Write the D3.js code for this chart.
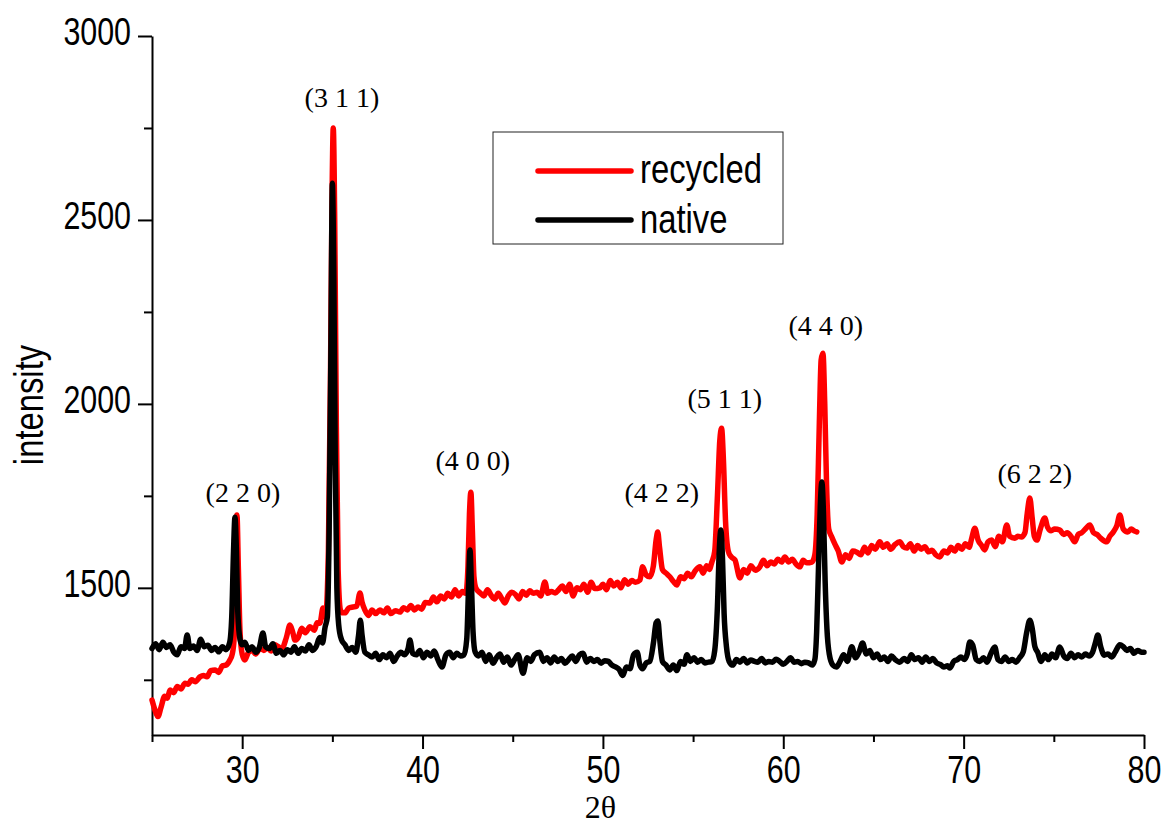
<!DOCTYPE html>
<html>
<head>
<meta charset="utf-8">
<script src="https://cdnjs.cloudflare.com/ajax/libs/d3/7.8.5/d3.min.js"></script>
<style>
  body { margin: 0; background: #fff; }
  .tick text { font-family: "Liberation Sans", Arial, sans-serif; }
</style>
</head>
<body>
<div id="xrd_div"></div>
<script>
// native sample (black)
var nativeTheta = [25.0,25.2,25.4,25.6,25.8,26.0,26.2,26.4,26.6,26.8,26.95,27.1,27.3,27.5,27.7,27.9,28.1,28.3,28.5,28.7,28.9,29.1,29.3,29.42,29.52,29.6,29.68,29.76,29.88,30.0,
  30.15,30.35,30.55,30.75,30.95,31.15,31.3,31.5,31.7,31.9,32.1,32.3,32.5,32.7,32.9,33.1,33.3,33.5,33.7,33.9,34.1,34.3,34.45,34.6,34.72,34.82,34.92,35.0,35.08,35.16,
  35.25,35.35,35.5,35.7,35.9,36.1,36.3,36.45,36.55,36.65,36.8,37.0,37.2,37.4,37.6,37.8,38.0,38.2,38.4,38.6,38.8,39.0,39.2,39.3,39.45,39.65,39.85,40.05,40.25,40.45,
  40.65,40.85,41.08,41.3,41.5,41.7,41.9,42.1,42.3,42.45,42.55,42.63,42.71,42.8,42.92,43.1,43.3,43.5,43.7,43.9,44.1,44.3,44.5,44.7,44.9,45.1,45.3,45.57,45.8,46.0,
  46.2,46.5,46.7,46.9,47.1,47.3,47.5,47.7,47.9,48.1,48.3,48.5,48.7,48.9,49.1,49.3,49.5,49.7,49.9,50.1,50.3,50.5,50.7,50.9,51.1,51.3,51.5,51.7,51.9,52.05,
  52.2,52.4,52.6,52.8,52.95,53.05,53.15,53.3,53.5,53.7,53.9,54.1,54.3,54.5,54.66,54.85,55.05,55.25,55.45,55.65,55.85,56.05,56.2,56.35,56.45,56.54,56.63,56.72,56.85,57.0,
  57.2,57.4,57.6,57.8,58.0,58.2,58.4,58.6,58.8,59.0,59.2,59.4,59.6,59.8,60.0,60.2,60.4,60.6,60.8,61.0,61.2,61.4,61.6,61.75,61.85,61.95,62.05,62.14,62.23,62.32,
  62.42,62.55,62.75,62.95,63.15,63.35,63.55,63.8,64.0,64.2,64.4,64.6,64.8,65.0,65.2,65.4,65.6,65.8,66.0,66.2,66.46,66.7,66.9,67.1,67.3,67.5,67.7,67.9,68.1,68.3,
  68.5,68.7,68.9,69.1,69.23,69.45,69.65,69.85,70.05,70.2,70.34,70.5,70.7,70.9,71.1,71.3,71.5,71.73,71.9,72.1,72.3,72.5,72.7,72.9,73.1,73.3,73.5,73.67,73.8,73.95,
  74.1,74.3,74.5,74.7,74.9,75.1,75.33,75.55,75.75,75.95,76.15,76.35,76.55,76.75,76.95,77.15,77.3,77.44,77.6,77.8,78.0,78.2,78.4,78.66,78.85,79.05,79.25,79.45,79.65,79.85,80.0];
var nativeI = [1335,1348,1332,1352,1338,1345,1326,1318,1340,1335,1372,1335,1342,1330,1360,1340,1344,1330,1338,1326,1340,1332,1350,1420,1600,1692,1600,1430,1360,1345,
  1352,1330,1340,1325,1338,1377,1340,1335,1348,1322,1330,1318,1332,1325,1340,1322,1335,1328,1345,1330,1340,1365,1350,1394,1420,1650,2150,2600,2350,1850,
  1500,1400,1360,1345,1330,1338,1325,1370,1412,1370,1325,1318,1312,1322,1305,1318,1310,1322,1300,1315,1325,1318,1335,1358,1322,1318,1330,1310,1325,1315,
  1328,1305,1285,1318,1325,1310,1322,1315,1318,1360,1500,1603,1510,1380,1325,1315,1325,1300,1318,1295,1310,1320,1298,1312,1290,1305,1318,1268,1310,1300,
  1318,1325,1300,1310,1296,1312,1300,1308,1295,1305,1315,1300,1318,1322,1298,1308,1300,1305,1295,1302,1300,1290,1285,1278,1262,1285,1280,1318,1325,1290,
  1280,1296,1300,1350,1405,1410,1360,1300,1290,1277,1290,1275,1300,1292,1318,1300,1310,1298,1305,1296,1298,1300,1330,1450,1600,1657,1580,1430,1340,1300,
  1290,1305,1298,1308,1296,1304,1300,1298,1308,1296,1300,1298,1306,1300,1292,1300,1310,1298,1300,1294,1298,1296,1290,1305,1380,1550,1720,1788,1700,1520,
  1390,1320,1290,1285,1300,1318,1300,1340,1310,1325,1350,1320,1330,1310,1320,1305,1312,1300,1315,1305,1298,1308,1300,1318,1305,1310,1298,1312,1300,1308,
  1296,1292,1285,1288,1282,1300,1305,1312,1305,1320,1353,1345,1305,1300,1310,1298,1320,1339,1305,1300,1312,1300,1305,1298,1310,1325,1380,1412,1390,1340,
  1325,1300,1318,1305,1320,1310,1339,1315,1308,1322,1310,1318,1312,1320,1315,1325,1350,1372,1340,1317,1320,1312,1325,1345,1340,1330,1335,1322,1330,1325,1325];

// recycled sample (red)
var recycledTheta = [25.0,25.15,25.33,25.5,25.7,25.85,26.0,26.2,26.4,26.6,26.83,27.0,27.2,27.4,27.66,27.85,28.05,28.25,28.5,28.7,28.9,29.1,29.32,29.45,29.55,29.63,29.71,29.79,29.88,30.0,
  30.15,30.35,30.55,30.75,30.99,31.2,31.4,31.6,31.82,32.0,32.2,32.45,32.65,32.8,32.93,33.1,33.3,33.5,33.76,34.0,34.15,34.31,34.48,34.62,34.78,34.9,34.98,35.05,35.13,35.22,
  35.32,35.45,35.58,35.7,35.9,36.14,36.35,36.53,36.65,36.8,37.0,37.2,37.4,37.64,37.85,38.05,38.25,38.5,38.75,38.95,39.15,39.35,39.55,39.75,39.95,40.15,40.41,40.6,40.8,41.0,
  41.2,41.4,41.6,41.8,42.0,42.2,42.4,42.52,42.6,42.68,42.76,42.85,42.95,43.2,43.4,43.6,43.8,44.0,44.2,44.4,44.57,44.75,44.95,45.15,45.35,45.55,45.75,45.95,46.15,46.35,
  46.55,46.78,46.95,47.15,47.35,47.55,47.75,47.95,48.15,48.35,48.55,48.75,48.95,49.15,49.35,49.55,49.83,50.0,50.2,50.4,50.6,50.8,51.0,51.2,51.4,51.6,51.8,52.05,52.2,52.4,
  52.6,52.8,52.95,53.04,53.14,53.3,53.5,53.71,53.9,54.1,54.3,54.5,54.7,54.9,55.1,55.38,55.55,55.75,55.9,56.04,56.2,56.35,56.48,56.58,56.68,56.8,56.95,57.1,57.32,57.6,
  57.8,58.0,58.2,58.45,58.7,58.9,59.1,59.3,59.5,59.7,59.9,60.09,60.3,60.5,60.7,60.92,61.1,61.3,61.59,61.75,61.88,62.0,62.1,62.2,62.3,62.4,62.52,62.69,62.85,63.05,
  63.25,63.45,63.65,63.85,64.08,64.3,64.5,64.7,64.9,65.1,65.35,65.55,65.75,65.95,66.2,66.46,66.65,66.85,67.05,67.25,67.45,67.65,67.85,68.05,68.25,68.45,68.68,68.9,69.1,69.3,
  69.5,69.7,69.9,70.1,70.3,70.45,70.62,70.8,71.0,71.17,71.35,71.55,71.75,71.95,72.15,72.39,72.55,72.84,73.0,73.2,73.4,73.52,73.67,73.8,73.92,74.06,74.25,74.5,74.65,74.85,
  75.05,75.33,75.55,75.75,75.95,76.16,76.35,76.55,76.75,77.0,77.2,77.4,77.6,77.94,78.1,78.3,78.5,78.66,78.85,79.1,79.3,79.45,79.6];
var recycledI = [1195,1170,1150,1175,1205,1200,1222,1215,1232,1225,1241,1238,1250,1245,1258,1262,1258,1275,1277,1270,1288,1290,1304,1320,1360,1550,1698,1550,1380,1320,
  1304,1325,1330,1320,1336,1330,1338,1328,1345,1340,1335,1365,1399,1380,1358,1365,1390,1378,1394,1385,1405,1404,1445,1420,1600,2100,2550,2750,2500,1950,
  1550,1440,1432,1432,1445,1448,1450,1486,1460,1440,1425,1440,1430,1440,1432,1445,1430,1438,1434,1446,1440,1452,1440,1448,1442,1460,1459,1475,1462,1478,
  1470,1485,1475,1495,1478,1490,1485,1560,1700,1760,1660,1530,1500,1486,1478,1495,1480,1470,1485,1470,1459,1478,1488,1482,1470,1490,1480,1492,1485,1488,
  1478,1516,1485,1490,1486,1495,1505,1490,1510,1478,1500,1495,1510,1488,1515,1498,1500,1510,1495,1520,1505,1515,1500,1522,1510,1520,1515,1521,1557,1535,
  1530,1560,1630,1652,1610,1550,1540,1530,1518,1508,1530,1525,1540,1530,1545,1557,1540,1560,1550,1570,1600,1750,1900,1934,1850,1680,1600,1585,1576,1527,
  1550,1540,1560,1548,1557,1575,1560,1570,1565,1578,1570,1584,1570,1578,1565,1557,1575,1568,1570,1590,1700,1950,2120,2138,2000,1780,1660,1638,1620,1600,
  1570,1590,1580,1600,1597,1590,1610,1595,1615,1605,1625,1610,1620,1605,1618,1625,1612,1608,1620,1600,1615,1605,1612,1598,1602,1590,1584,1600,1595,1610,
  1600,1615,1605,1620,1610,1635,1662,1630,1615,1603,1625,1630,1612,1640,1625,1671,1640,1635,1640,1638,1650,1700,1744,1690,1640,1630,1660,1690,1665,1655,
  1660,1657,1645,1650,1640,1625,1645,1650,1660,1671,1650,1645,1635,1625,1640,1652,1670,1698,1660,1652,1660,1655,1652];

// peak labels (hkl) and where they sit (2theta, intensity)
var peakLabels = ["(2 2 0)", "(3 1 1)", "(4 0 0)", "(4 2 2)", "(5 1 1)", "(4 4 0)", "(6 2 2)"];
var peakLabelTheta = [30.04, 35.53, 42.79, 53.27, 56.76, 62.36, 73.95];
var peakLabelI = [1733, 2807, 1820, 1733, 1989, 2187, 1785];

var xMajorTicks = [30, 40, 50, 60, 70, 80];
var xMinorTicks = [25, 35, 45, 55, 65, 75];
var yMajorTicks = [1500, 2000, 2500, 3000];
var yMinorTicks = [1250, 1750, 2250, 2750];

var seriesNames = ["recycled", "native"];
var seriesColors = ["#ff0000", "#000000"];

// the original uses a narrow sans, squeeze Liberation Sans horizontally
var narrow = 0.8;
var sansFont = "'Liberation Sans', Arial, sans-serif";

function xrdchart(){
  var all_width = 1168;
  var all_height = 824;
  var margin = {top: 36, right: 24, bottom: 89, left: 152},
      width = all_width - margin.left - margin.right,
      height = all_height - margin.top - margin.bottom;

  var svg = d3.select("#xrd_div")
    .html("")
    .append("svg")
      .attr("width", all_width)
      .attr("height", all_height)
    .append("g")
      .attr("transform", "translate(" + margin.left + "," + margin.top + ")");

  var x = d3.scaleLinear().domain([25, 80]).range([0, width]);
  var y = d3.scaleLinear().domain([1100, 3000]).range([height, 0]);

  // minor ticks first, no labels
  svg.append("g")
    .attr("transform", "translate(0," + height + ")")
    .call(d3.axisBottom(x).tickValues(xMinorTicks).tickSize(7).tickFormat(""))
    .call(function(g){ g.select(".domain").remove(); })
    .selectAll("line").attr("stroke-width", 2);
  svg.append("g")
    .call(d3.axisLeft(y).tickValues(yMinorTicks).tickSize(8).tickFormat(""))
    .call(function(g){ g.select(".domain").remove(); })
    .selectAll("line").attr("stroke-width", 2);

  // x axis
  var xAxis = svg.append("g")
    .attr("transform", "translate(0," + height + ")")
    .call(d3.axisBottom(x).tickValues(xMajorTicks).tickFormat(d3.format("d"))
      .tickSize(14).tickSizeOuter(0).tickPadding(7));
  xAxis.select(".domain").attr("stroke-width", 2);
  xAxis.selectAll(".tick line").attr("stroke-width", 2);
  xAxis.selectAll(".tick text")
    .style("font-size", "38px")
    .attr("fill", "#000")
    .attr("transform", "scale(" + narrow + ",1)");

  // y axis
  var yAxis = svg.append("g")
    .call(d3.axisLeft(y).tickValues(yMajorTicks).tickFormat(d3.format("d"))
      .tickSize(14).tickSizeOuter(0).tickPadding(7));
  yAxis.select(".domain").attr("stroke-width", 2);
  yAxis.selectAll(".tick line").attr("stroke-width", 2);
  yAxis.selectAll(".tick text")
    .style("font-size", "38px")
    .attr("dy", "0.22em")
    .attr("fill", "#000")
    .attr("x", -21 / narrow)
    .attr("transform", "scale(" + narrow + ",1)");

  // axis titles
  svg.append("text")
    .attr("text-anchor", "middle")
    .attr("transform", "translate(" + (43 - margin.left) + "," + (405 - margin.top) + ") rotate(-90) scale(" + narrow + ",1)")
    .style("font-family", sansFont)
    .style("font-size", "41px")
    .text("intensity");

  svg.append("text")
    .attr("text-anchor", "middle")
    .attr("x", width * 0.452)
    .attr("y", height + 83)
    .style("font-family", "'Liberation Serif', 'DejaVu Serif', serif")
    .style("font-size", "32px")
    .text("2θ");

  // the two patterns
  var line = d3.line()
    .x(function(d) { return x(d[0]); })
    .y(function(d) { return y(d[1]); })
    .curve(d3.curveMonotoneX);

  var recycled = recycledTheta.map(function(t, i) { return [t, recycledI[i]]; });
  var native = nativeTheta.map(function(t, i) { return [t, nativeI[i]]; });

  [recycled, native].forEach(function(s, i) {
    svg.append("path")
      .datum(s)
      .attr("fill", "none")
      .attr("stroke", seriesColors[i])
      .attr("stroke-width", 5.5)
      .attr("stroke-linejoin", "round")
      .attr("stroke-linecap", "round")
      .attr("d", line);
  });

  // hkl labels
  svg.selectAll("peakLabels")
    .data(peakLabels)
    .enter()
    .append("text")
      .attr("x", function(d, i) { return x(peakLabelTheta[i]); })
      .attr("y", function(d, i) { return y(peakLabelI[i]); })
      .attr("text-anchor", "middle")
      .style("font-family", "'Liberation Serif', 'DejaVu Serif', serif")
      .style("font-size", "28px")
      .text(function(d) { return d; });

  // legend
  var lg = svg.append("g")
    .attr("transform", "translate(" + (493 - margin.left) + "," + (132 - margin.top) + ")");
  lg.append("rect")
    .attr("width", 290)
    .attr("height", 112)
    .attr("fill", "#fff")
    .attr("stroke", "#222")
    .attr("stroke-width", 1);
  seriesNames.forEach(function(name, i) {
    lg.append("line")
      .attr("x1", 45).attr("x2", 138)
      .attr("y1", 39 + i * 49).attr("y2", 39 + i * 49)
      .attr("stroke", seriesColors[i])
      .attr("stroke-width", 5.5)
      .attr("stroke-linecap", "round");
    lg.append("text")
      .attr("transform", "translate(147," + (51 + i * 50) + ") scale(" + narrow + ",1)")
      .style("font-family", sansFont)
      .style("font-size", "41px")
      .text(name);
  });
}
xrdchart()
</script>
</body>
</html>
